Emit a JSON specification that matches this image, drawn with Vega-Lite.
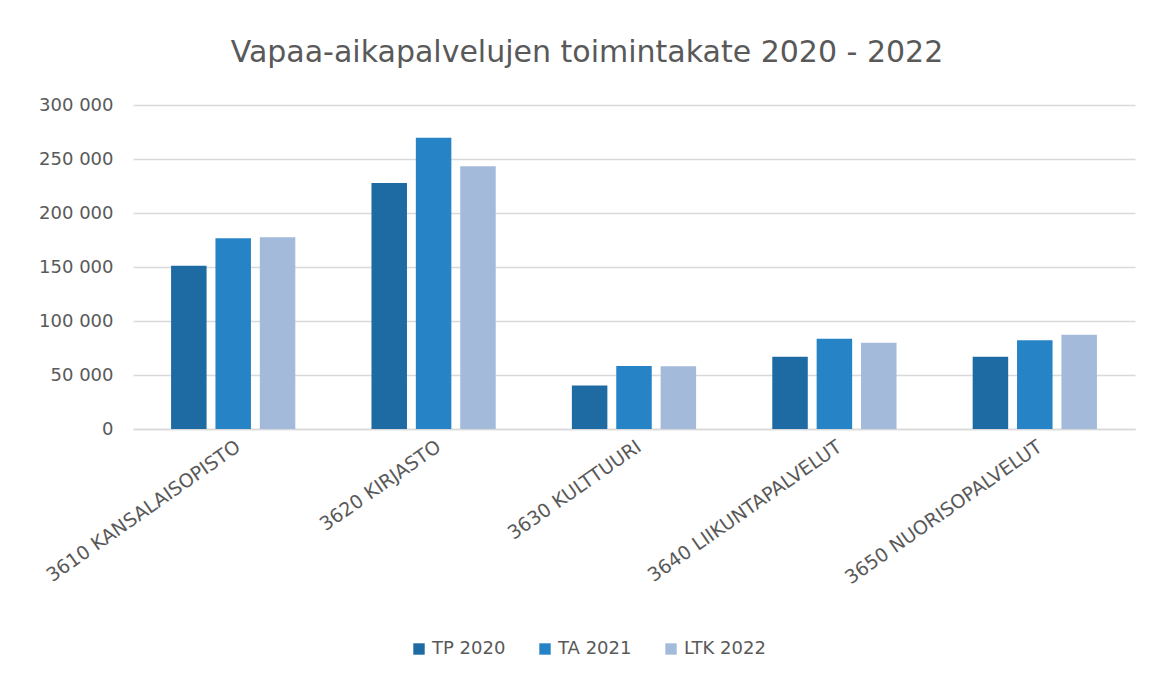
{
  "$schema": "https://vega.github.io/schema/vega-lite/v6.json",
  "autosize": {"type": "none"},
  "width": 1002,
  "height": 324,
  "padding": {"left": 133, "top": 105, "right": 16, "bottom": 248},
  "background": "white",
  "title": {
    "text": "Vapaa-aikapalvelujen toimintakate 2020 - 2022",
    "fontSize": 30,
    "font": "DejaVu Sans",
    "fontWeight": "normal",
    "color": "#595959",
    "offset": 28,
    "anchor": "middle",
    "dx": -47
  },
  "config": {
    "locale": {
      "number": {"decimal": ",", "thousands": " ", "grouping": [3], "currency": ["", " €"]}
    },
    "view": {"stroke": null},
    "font": "DejaVu Sans"
  },
  "data": {
    "values": [
      {"yksikko": "3610 KANSALAISOPISTO", "sarja": "TP 2020", "arvo": 151100},
      {"yksikko": "3610 KANSALAISOPISTO", "sarja": "TA 2021", "arvo": 176600},
      {"yksikko": "3610 KANSALAISOPISTO", "sarja": "LTK 2022", "arvo": 177500},
      {"yksikko": "3620 KIRJASTO", "sarja": "TP 2020", "arvo": 227800},
      {"yksikko": "3620 KIRJASTO", "sarja": "TA 2021", "arvo": 269700},
      {"yksikko": "3620 KIRJASTO", "sarja": "LTK 2022", "arvo": 243300},
      {"yksikko": "3630 KULTTUURI", "sarja": "TP 2020", "arvo": 40300},
      {"yksikko": "3630 KULTTUURI", "sarja": "TA 2021", "arvo": 58400},
      {"yksikko": "3630 KULTTUURI", "sarja": "LTK 2022", "arvo": 58000},
      {"yksikko": "3640 LIIKUNTAPALVELUT", "sarja": "TP 2020", "arvo": 66800},
      {"yksikko": "3640 LIIKUNTAPALVELUT", "sarja": "TA 2021", "arvo": 83500},
      {"yksikko": "3640 LIIKUNTAPALVELUT", "sarja": "LTK 2022", "arvo": 79800},
      {"yksikko": "3650 NUORISOPALVELUT", "sarja": "TP 2020", "arvo": 66800},
      {"yksikko": "3650 NUORISOPALVELUT", "sarja": "TA 2021", "arvo": 82200},
      {"yksikko": "3650 NUORISOPALVELUT", "sarja": "LTK 2022", "arvo": 87200}
    ]
  },
  "mark": {"type": "bar"},
  "encoding": {
    "x": {
      "field": "yksikko",
      "type": "nominal",
      "sort": null,
      "title": null,
      "scale": {"paddingInner": 0.38, "paddingOuter": 0.19},
      "axis": {
        "labelAngle": -35,
        "labelFontSize": 19,
        "labelColor": "#595959",
        "labelPadding": 8,
        "ticks": false,
        "domainColor": "#d9d9d9",
        "domainWidth": 1.5,
        "labelLimit": 400
      }
    },
    "xOffset": {
      "field": "sarja",
      "type": "nominal",
      "sort": ["TP 2020", "TA 2021", "LTK 2022"],
      "scale": {"paddingInner": 0.2}
    },
    "y": {
      "field": "arvo",
      "type": "quantitative",
      "title": null,
      "scale": {"domain": [0, 300000], "nice": false},
      "axis": {
        "values": [0, 50000, 100000, 150000, 200000, 250000, 300000],
        "format": ",d",
        "labelFontSize": 18,
        "labelColor": "#595959",
        "labelPadding": 20,
        "ticks": false,
        "domain": false,
        "gridColor": "#d9d9d9",
        "gridWidth": 1.5
      }
    },
    "color": {
      "field": "sarja",
      "type": "nominal",
      "sort": ["TP 2020", "TA 2021", "LTK 2022"],
      "scale": {
        "domain": ["TP 2020", "TA 2021", "LTK 2022"],
        "range": ["#1e6ba3", "#2683c6", "#a3badb"]
      },
      "legend": {
        "title": null,
        "orient": "none",
        "legendX": 277,
        "legendY": 535,
        "direction": "horizontal",
        "symbolType": "square",
        "symbolSize": 130,
        "labelFontSize": 18,
        "labelColor": "#595959",
        "columnPadding": 30,
        "labelOffset": 4
      }
    }
  }
}
